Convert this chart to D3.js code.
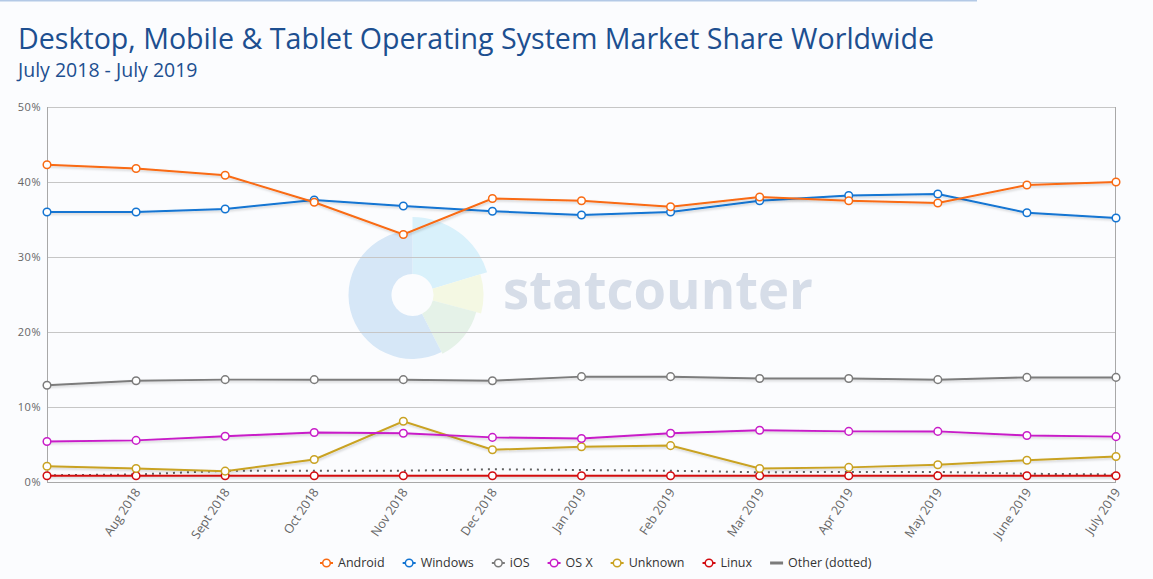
<!DOCTYPE html>
<html>
<head>
<meta charset="utf-8">
<script src="https://cdn.jsdelivr.net/npm/d3@7"></script>
<style>
  body { margin: 0; background: #fbfcfe; overflow: hidden; }
  svg { display: block; font-family: 'Open Sans', sans-serif; }
</style>
</head>
<body>
<svg></svg>
<script>
var W = 1153, H = 579;

// data
var months = ['July 2018', 'Aug 2018', 'Sept 2018', 'Oct 2018', 'Nov 2018', 'Dec 2018',
    'Jan 2019', 'Feb 2019', 'Mar 2019', 'Apr 2019', 'May 2019', 'June 2019', 'July 2019'];
var android = [42.3, 41.8, 40.9, 37.3, 33.0, 37.8, 37.5, 36.7, 38.0, 37.5, 37.2, 39.6, 40.0];
var windows = [36.0, 36.0, 36.4, 37.6, 36.8, 36.1, 35.6, 36.0, 37.5, 38.2, 38.4, 35.9, 35.2];
var ios = [12.9, 13.5, 13.65, 13.65, 13.65, 13.5, 14.05, 14.05, 13.8, 13.8, 13.65, 13.95, 13.95];
var osx = [5.4, 5.55, 6.1, 6.6, 6.5, 5.95, 5.8, 6.5, 6.9, 6.75, 6.75, 6.2, 6.05];
var unknown = [2.1, 1.8, 1.45, 3.0, 8.1, 4.3, 4.7, 4.85, 1.8, 1.95, 2.3, 2.9, 3.4];
var linux = [0.84, 0.84, 0.84, 0.84, 0.84, 0.84, 0.84, 0.84, 0.84, 0.84, 0.84, 0.84, 0.84];
var other = [0.9, 1.0, 1.5, 1.5, 1.5, 1.7, 1.6, 1.5, 1.3, 1.35, 1.35, 1.1, 1.0];
var yTicks = [0, 10, 20, 30, 40, 50];

var series = [
    { name: 'Android', values: android, color: '#f96a12' },
    { name: 'Windows', values: windows, color: '#1274d2' },
    { name: 'iOS', values: ios, color: '#7b7b7b' },
    { name: 'OS X', values: osx, color: '#c81cc8' },
    { name: 'Unknown', values: unknown, color: '#c9a222' },
    { name: 'Linux', values: linux, color: '#d20b10' },
    { name: 'Other (dotted)', values: other, color: '#606060', dotted: true }
];

var plotLeft = 47, plotRight = 1116, plotTop = 107, plotBottom = 482;

var svg = d3.select('svg')
    .attr('width', W)
    .attr('height', H);

// shadow under the lines; user space region so flat lines keep it
var defs = svg.append('defs');
var f = defs.append('filter').attr('id', 'shadow')
    .attr('filterUnits', 'userSpaceOnUse')
    .attr('x', 0).attr('y', 0).attr('width', W).attr('height', H);
f.append('feDropShadow')
    .attr('dx', 1).attr('dy', 1.5).attr('stdDeviation', 1)
    .attr('flood-color', '#000').attr('flood-opacity', 0.18);

// top rule
svg.append('rect')
    .attr('x', 0).attr('y', 0).attr('width', 977).attr('height', 1.5)
    .attr('fill', '#b3c9e6');

// titles
svg.append('text')
    .attr('x', 18).attr('y', 49)
    .attr('fill', '#1d4f90')
    .style('font-size', '28.6px')
    .text('Desktop, Mobile & Tablet Operating System Market Share Worldwide');

svg.append('text')
    .attr('x', 18).attr('y', 77)
    .attr('fill', '#1d4f90')
    .style('font-size', '19.5px')
    .text('July 2018 - July 2019');

var x = d3.scalePoint()
    .domain(months)
    .range([plotLeft, plotRight]);

var y = d3.scaleLinear()
    .domain([0, 50])
    .range([plotBottom, plotTop]);

// watermark
var wm = svg.append('g')
    .attr('transform', 'translate(412.5,295)');
var deg = Math.PI / 180;
var slices = [
    { a0: 0, a1: 73, r: 78, c: '#d9f1fb' },
    { a0: 73, a1: 105, r: 71, c: '#f4f8e3' },
    { a0: 105, a1: 153, r: 66, c: '#e5f2e8' },
    { a0: 153, a1: 360, r: 64, c: '#d6e7f7' }
];
wm.selectAll('path')
    .data(slices)
    .enter().append('path')
    .attr('d', function (d) {
        return d3.arc()({ innerRadius: 21, outerRadius: d.r, startAngle: d.a0 * deg, endAngle: d.a1 * deg });
    })
    .attr('fill', function (d) { return d.c; });

svg.append('text')
    .attr('x', 503).attr('y', 309)
    .attr('fill', '#d6dde8')
    .attr('textLength', 310)
    .attr('lengthAdjust', 'spacingAndGlyphs')
    .style('font-size', '54px')
    .style('font-weight', 'bold')
    .text('statcounter');

// grid
svg.append('g')
    .selectAll('line')
    .data(yTicks)
    .enter().append('line')
    .attr('x1', plotLeft).attr('x2', plotRight)
    .attr('y1', function (d) { return Math.round(y(d)) + 0.5; })
    .attr('y2', function (d) { return Math.round(y(d)) + 0.5; })
    .attr('stroke', '#c6c6c6')
    .attr('stroke-width', 1);

// frame
svg.append('line')
    .attr('x1', plotLeft + 0.5).attr('x2', plotLeft + 0.5).attr('y1', plotTop).attr('y2', plotBottom + 1)
    .attr('stroke', '#a8a8a8');
svg.append('line')
    .attr('x1', plotRight - 0.5).attr('x2', plotRight - 0.5).attr('y1', plotTop).attr('y2', plotBottom + 1)
    .attr('stroke', '#a8a8a8');
svg.append('line')
    .attr('x1', plotLeft).attr('x2', plotRight)
    .attr('y1', Math.round(y(0)) + 0.5).attr('y2', Math.round(y(0)) + 0.5)
    .attr('stroke', '#a8a8a8');

// y axis labels
svg.append('g')
    .selectAll('text')
    .data(yTicks)
    .enter().append('text')
    .attr('x', 41)
    .attr('y', function (d) { return y(d); })
    .attr('dy', '0.35em')
    .attr('text-anchor', 'end')
    .attr('fill', '#666')
    .style('font-size', '11px')
    .style('letter-spacing', '0.5px')
    .text(function (d) { return d + '%'; });

// x axis labels (first month not labelled)
svg.append('g')
    .selectAll('text')
    .data(months.slice(1))
    .enter().append('text')
    .attr('transform', function (d) { return 'translate(' + (x(d) + 5) + ',' + 492 + ') rotate(-56)'; })
    .attr('text-anchor', 'end')
    .attr('fill', '#666')
    .style('font-size', '12.5px')
    .text(function (d) { return d; });

// series
var line = d3.line()
    .x(function (d, i) { return x(months[i]); })
    .y(function (d) { return y(d); });

var sg = svg.append('g');
series.slice().reverse().forEach(function (s) {
    var g = sg.append('g');
    g.append('path')
        .attr('d', line(s.values))
        .attr('fill', 'none')
        .attr('stroke', s.color)
        .attr('stroke-width', 2)
        .attr('stroke-dasharray', s.dotted ? '2,5' : null)
        .style('filter', s.dotted ? null : 'url(#shadow)');
    if (!s.dotted) {
        g.selectAll('circle')
            .data(s.values)
            .enter().append('circle')
            .attr('cx', function (d, i) { return x(months[i]); })
            .attr('cy', function (d) { return y(d); })
            .attr('r', 3.8)
            .attr('fill', '#fff')
            .attr('stroke', s.color)
            .attr('stroke-width', 1.5);
    }
});

// legend
var leg = svg.append('g');
var lx = 320;
series.forEach(function (s) {
    var it = leg.append('g').attr('transform', 'translate(' + lx + ',563)');
    it.append('line')
        .attr('x1', 0).attr('x2', 13).attr('y1', 0).attr('y2', 0)
        .attr('stroke', s.dotted ? '#7b7b7b' : s.color)
        .attr('stroke-width', s.dotted ? 3 : 2);
    if (!s.dotted) {
        it.append('circle')
            .attr('cx', 6.5).attr('cy', 0).attr('r', 3.8)
            .attr('fill', '#fff')
            .attr('stroke', s.color)
            .attr('stroke-width', 1.5);
    }
    var t = it.append('text')
        .attr('x', 18).attr('y', 0).attr('dy', '0.35em')
        .attr('fill', '#333')
        .style('font-size', '12.5px')
        .text(s.name);
    lx += 18 + t.node().getComputedTextLength() + 18;
});
</script>
</body>
</html>
